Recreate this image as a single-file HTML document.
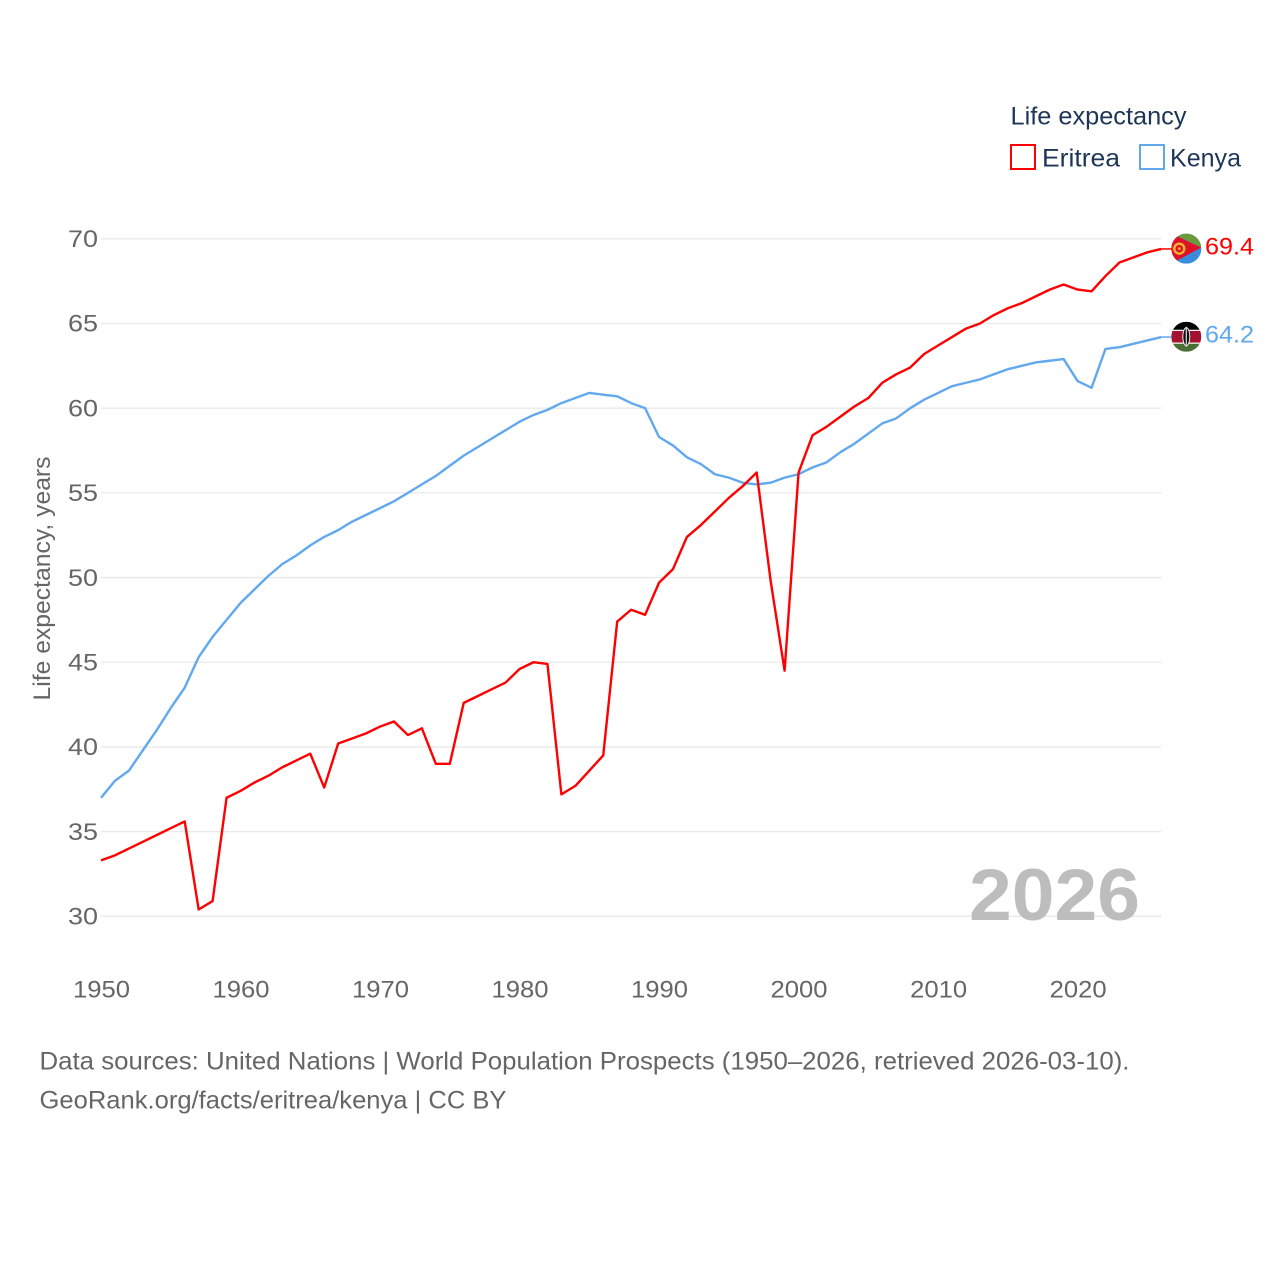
<!DOCTYPE html>
<html lang="en">
<head>
<meta charset="utf-8">
<title>Life expectancy: Eritrea and Kenya</title>
<style>
html,body{margin:0;padding:0;background:#fff}
svg{display:block}
text{font-family:"Liberation Sans",sans-serif}
</style>
</head>
<body>
<svg id="chart" xmlns="http://www.w3.org/2000/svg" width="1280" height="1280" viewBox="0 0 1280 1280">
  <defs>
    <clipPath id="flag-clip"><circle cx="0" cy="0" r="15"/></clipPath>
  </defs>
  <rect width="1280" height="1280" fill="#fff"/>
  <g id="grid"></g>
  <g id="y-ticks"></g>
  <g id="x-ticks"></g>
  <text transform="translate(50,578.5) rotate(-90)" text-anchor="middle" font-size="24" fill="#666" textLength="244" lengthAdjust="spacingAndGlyphs">Life expectancy, years</text>
  <text x="1140" y="920" text-anchor="end" font-size="73" font-weight="700" fill="#bdbdbd" textLength="171" lengthAdjust="spacingAndGlyphs">2026</text>
  <g id="series"></g>

  <g id="flag-eritrea">
    <g clip-path="url(#flag-clip)">
      <rect x="-15" y="-15" width="30" height="30" fill="#3a8dde"/>
      <polygon points="-15,-15 15,-15 15,-1" fill="#6b9a3c"/>
      <polygon points="-15,-15 15,-1 -15,15" fill="#e0112b"/>
      <polygon points="-15,15 15,-1 15,15" fill="#3a8dde"/>
      <circle cx="-7" cy="0" r="5" fill="none" stroke="#f2b42b" stroke-width="2.4"/>
      <circle cx="-7" cy="0" r="1.4" fill="#f2b42b"/>
    </g>
  </g>
  <g id="flag-kenya">
    <g clip-path="url(#flag-clip)">
      <rect x="-15" y="-15" width="30" height="10" fill="#000"/>
      <rect x="-15" y="5" width="30" height="10" fill="#4a6f33"/>
      <rect x="-15" y="-7" width="30" height="14" fill="#fff"/>
      <rect x="-15" y="-5.8" width="30" height="11.6" fill="#a3122e"/>
      <ellipse cx="0" cy="0" rx="3.5" ry="9" fill="#111" stroke="#eee" stroke-width="1"/>
      <rect x="-0.6" y="-10" width="1.2" height="20" fill="#ddd"/>
    </g>
  </g>

  <text id="label-eritrea" x="1205" font-size="24" fill="#ff0000" textLength="49" lengthAdjust="spacingAndGlyphs"></text>
  <text id="label-kenya" x="1205" font-size="24" fill="#62a8ef" textLength="49" lengthAdjust="spacingAndGlyphs"></text>

  <g>
    <text x="1010.5" y="124.5" font-size="25" fill="#1d3557" textLength="176" lengthAdjust="spacingAndGlyphs">Life expectancy</text>
    <rect x="1011" y="145" width="24" height="24" fill="none" stroke="#ff0000" stroke-width="2"/>
    <text x="1042" y="166.5" font-size="25" fill="#1d3557" textLength="78" lengthAdjust="spacingAndGlyphs">Eritrea</text>
    <rect x="1140" y="145" width="24" height="24" fill="none" stroke="#62a8ef" stroke-width="2"/>
    <text x="1170" y="166.5" font-size="25" fill="#1d3557" textLength="71" lengthAdjust="spacingAndGlyphs">Kenya</text>
  </g>

  <g>
    <text x="39.5" y="1069.5" font-size="25" fill="#666" textLength="1090" lengthAdjust="spacingAndGlyphs">Data sources: United Nations | World Population Prospects (1950–2026, retrieved 2026-03-10).</text>
    <text x="39.5" y="1108.5" font-size="25" fill="#666" textLength="467" lengthAdjust="spacingAndGlyphs">GeoRank.org/facts/eritrea/kenya | CC BY</text>
  </g>
</svg>
<script>
const years = [1950,1951,1952,1953,1954,1955,1956,1957,1958,1959,1960,1961,1962,1963,1964,1965,1966,1967,1968,1969,1970,1971,1972,1973,1974,1975,1976,1977,1978,1979,1980,1981,1982,1983,1984,1985,1986,1987,1988,1989,1990,1991,1992,1993,1994,1995,1996,1997,1998,1999,2000,2001,2002,2003,2004,2005,2006,2007,2008,2009,2010,2011,2012,2013,2014,2015,2016,2017,2018,2019,2020,2021,2022,2023,2024,2025,2026];
const eritreaValues = [33.3,33.6,34.0,34.4,34.8,35.2,35.6,30.4,30.9,37.0,37.4,37.9,38.3,38.8,39.2,39.6,37.6,40.2,40.5,40.8,41.2,41.5,40.7,41.1,39.0,39.0,42.6,43.0,43.4,43.8,44.6,45.0,44.9,37.2,37.7,38.6,39.5,47.4,48.1,47.8,49.7,50.5,52.4,53.1,53.9,54.7,55.4,56.2,49.8,44.5,56.2,58.4,58.9,59.5,60.1,60.6,61.5,62.0,62.4,63.2,63.7,64.2,64.7,65.0,65.5,65.9,66.2,66.6,67.0,67.3,67.0,66.9,67.8,68.6,68.9,69.2,69.4];
const kenyaValues = [37.0,38.0,38.6,39.8,41.0,42.3,43.5,45.3,46.5,47.5,48.5,49.3,50.1,50.8,51.3,51.9,52.4,52.8,53.3,53.7,54.1,54.5,55.0,55.5,56.0,56.6,57.2,57.7,58.2,58.7,59.2,59.6,59.9,60.3,60.6,60.9,60.8,60.7,60.3,60.0,58.3,57.8,57.1,56.7,56.1,55.9,55.6,55.5,55.6,55.9,56.1,56.5,56.8,57.4,57.9,58.5,59.1,59.4,60.0,60.5,60.9,61.3,61.5,61.7,62.0,62.3,62.5,62.7,62.8,62.9,61.6,61.2,63.5,63.6,63.8,64.0,64.2];
const yTickLabels = [30,35,40,45,50,55,60,65,70];
const xTickLabels = [1950,1960,1970,1980,1990,2000,2010,2020];

const NS = 'http://www.w3.org/2000/svg';
function xScale(year) { return 101 + (year - 1950) * (1161.3 - 101) / (2026 - 1950); }
function yScale(value) { return 916.3 - (value - 30) * (916.3 - 238.8) / (70 - 30); }

const gridGroup = document.getElementById('grid');
const yTickGroup = document.getElementById('y-ticks');
const xTickGroup = document.getElementById('x-ticks');
const seriesGroup = document.getElementById('series');

yTickLabels.forEach(function (tick) {
  const line = document.createElementNS(NS, 'line');
  
  
  line.setAttribute('x1', xScale(1950));
  line.setAttribute('x2', xScale(2026));
  line.setAttribute('y1', yScale(tick));
  line.setAttribute('y2', yScale(tick));
  line.setAttribute('stroke', '#e9e9e9');
  line.setAttribute('stroke-width', '1.3');
  gridGroup.appendChild(line);

  const label = document.createElementNS(NS, 'text');
  
  
  label.setAttribute('x', 68);
  label.setAttribute('y', yScale(tick) + 8.2);
  label.setAttribute('font-size', '24');
  label.setAttribute('textLength', '30');
  label.setAttribute('lengthAdjust', 'spacingAndGlyphs');
  label.setAttribute('fill', '#666');
  label.textContent = tick;
  yTickGroup.appendChild(label);
});

xTickLabels.forEach(function (tick) {
  const label = document.createElementNS(NS, 'text');
  
  
  label.setAttribute('x', xScale(tick) + 0.5);
  label.setAttribute('y', 997.5);
  label.setAttribute('text-anchor', 'middle');
  label.setAttribute('font-size', '24');
  label.setAttribute('textLength', '57');
  label.setAttribute('lengthAdjust', 'spacingAndGlyphs');
  label.setAttribute('fill', '#666');
  label.textContent = tick;
  xTickGroup.appendChild(label);
});

function linePoints(values) {
  return values.map(function (value, i) {
    return xScale(years[i]).toFixed(2) + ',' + yScale(value).toFixed(2);
  }).join(' ');
}

const kenyaLine = document.createElementNS(NS, 'polyline');


kenyaLine.setAttribute('points', linePoints(kenyaValues));
kenyaLine.setAttribute('fill', 'none');
kenyaLine.setAttribute('stroke', '#62a8ef');
kenyaLine.setAttribute('stroke-width', '2.4');
kenyaLine.setAttribute('stroke-linejoin', 'round');
seriesGroup.appendChild(kenyaLine);

const eritreaLine = document.createElementNS(NS, 'polyline');


eritreaLine.setAttribute('points', linePoints(eritreaValues));
eritreaLine.setAttribute('fill', 'none');
eritreaLine.setAttribute('stroke', '#ff0000');
eritreaLine.setAttribute('stroke-width', '2.4');
eritreaLine.setAttribute('stroke-linejoin', 'round');
seriesGroup.appendChild(eritreaLine);

const lastIndex = years.length - 1;
const lastX = xScale(years[lastIndex]);
const eritreaLast = eritreaValues[lastIndex];
const kenyaLast = kenyaValues[lastIndex];

const eritreaConnector = document.createElementNS(NS, 'line');


eritreaConnector.setAttribute('x1', lastX);
eritreaConnector.setAttribute('x2', lastX + 12);
eritreaConnector.setAttribute('y1', yScale(eritreaLast));
eritreaConnector.setAttribute('y2', yScale(eritreaLast));
eritreaConnector.setAttribute('stroke', '#ff0000');
eritreaConnector.setAttribute('stroke-width', '1.5');
seriesGroup.appendChild(eritreaConnector);

const kenyaConnector = document.createElementNS(NS, 'line');


kenyaConnector.setAttribute('x1', lastX);
kenyaConnector.setAttribute('x2', lastX + 12);
kenyaConnector.setAttribute('y1', yScale(kenyaLast));
kenyaConnector.setAttribute('y2', yScale(kenyaLast));
kenyaConnector.setAttribute('stroke', '#62a8ef');
kenyaConnector.setAttribute('stroke-width', '1.5');
seriesGroup.appendChild(kenyaConnector);

document.getElementById('flag-eritrea').setAttribute('transform', 'translate(' + (lastX + 25) + ',' + (yScale(eritreaLast) - 0.3) + ')');
document.getElementById('flag-kenya').setAttribute('transform', 'translate(' + (lastX + 25) + ',' + (yScale(kenyaLast) - 0.3) + ')');

const eritreaLabel = document.getElementById('label-eritrea');
eritreaLabel.setAttribute('y', yScale(eritreaLast) + 5.5);
eritreaLabel.textContent = eritreaLast.toFixed(1);

const kenyaLabel = document.getElementById('label-kenya');
kenyaLabel.setAttribute('y', yScale(kenyaLast) + 5.5);
kenyaLabel.textContent = kenyaLast.toFixed(1);
</script>
</body>
</html>
